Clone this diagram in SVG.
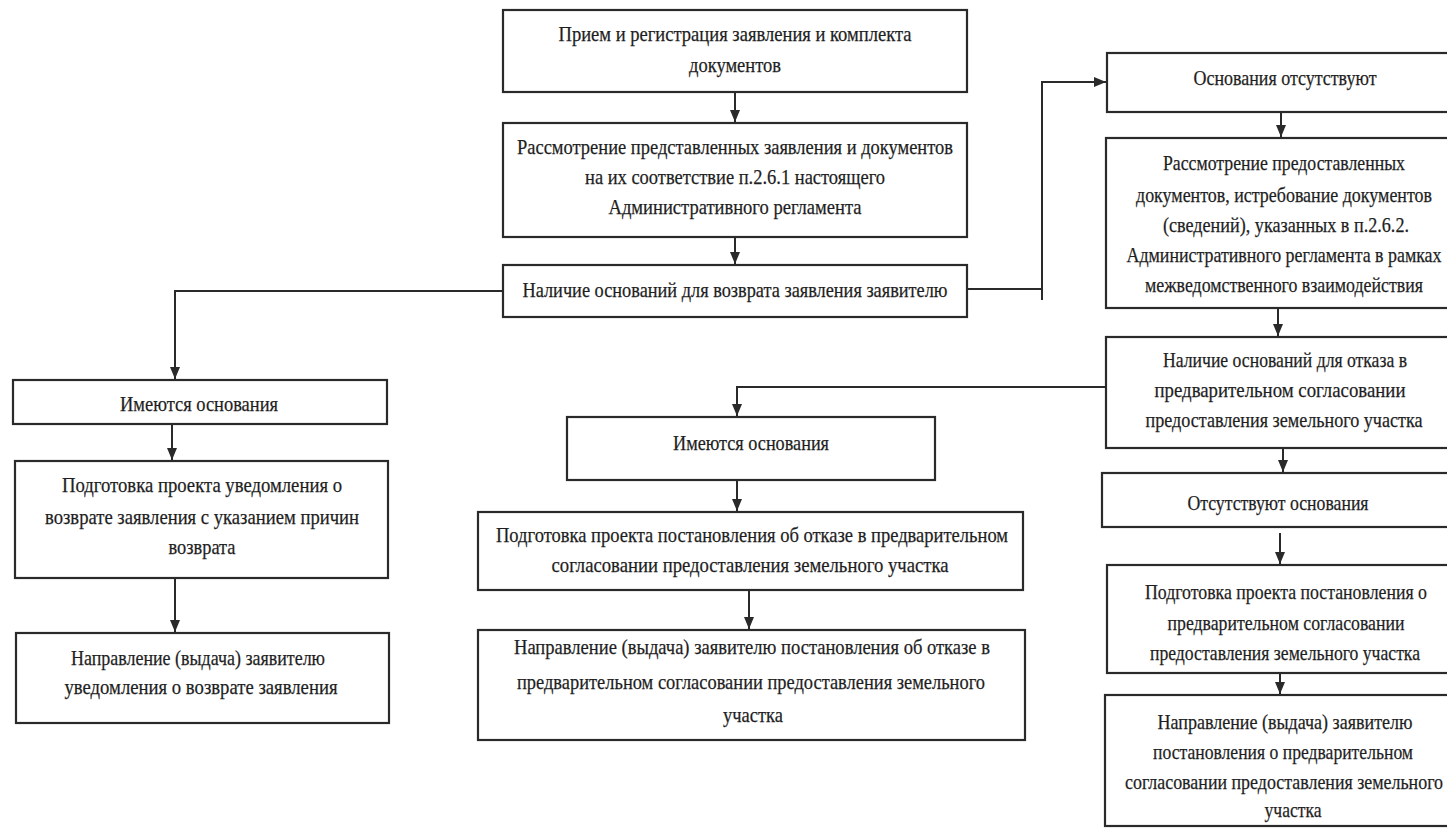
<svg xmlns="http://www.w3.org/2000/svg" width="1447" height="837" viewBox="0 0 1447 837">
<defs>
<marker id="ah" markerUnits="userSpaceOnUse" markerWidth="12" markerHeight="14" refX="12" refY="5" orient="auto">
<path d="M0,0 L12,5 L0,10 z" fill="#2a2a2a"/>
</marker>
<style>
.b{fill:none;stroke:#2a2a2a;stroke-width:2.2}
.t{font-family:"Liberation Serif","Times New Roman",serif;font-size:22px;fill:#1e1e1e;stroke:#1e1e1e;stroke-width:0.25;text-anchor:middle}
.c{fill:none;stroke:#2a2a2a;stroke-width:2}
</style>
</defs>
<rect width="1447" height="837" fill="#ffffff"/>
<g id="connectors">
<path class="c" d="M735,92 V122" marker-end="url(#ah)"/>
<path class="c" d="M735,237 V264" marker-end="url(#ah)"/>
<path class="c" d="M503,291 H175 V379" marker-end="url(#ah)"/>
<path class="c" d="M967,289 H1042 M1042,300 V82 H1106" marker-end="url(#ah)"/>
<path class="c" d="M1281,112 V137" marker-end="url(#ah)"/>
<path class="c" d="M1278,308 V336" marker-end="url(#ah)"/>
<path class="c" d="M1106,387 H737 V416" marker-end="url(#ah)"/>
<path class="c" d="M737,480 V511" marker-end="url(#ah)"/>
<path class="c" d="M749,590 V629" marker-end="url(#ah)"/>
<path class="c" d="M1283,448 V472" marker-end="url(#ah)"/>
<path class="c" d="M1280,533 V564" marker-end="url(#ah)"/>
<path class="c" d="M1280,673 V694" marker-end="url(#ah)"/>
<path class="c" d="M172,424 V460" marker-end="url(#ah)"/>
<path class="c" d="M175,578 V632" marker-end="url(#ah)"/>
</g>
<g id="n1"><rect class="b" x="503" y="10" width="464" height="82"/>
<text class="t" x="735" y="41" textLength="353" lengthAdjust="spacingAndGlyphs">Прием и регистрация заявления и комплекта</text>
<text class="t" x="735" y="72" textLength="92" lengthAdjust="spacingAndGlyphs">документов</text></g>
<g id="n2"><rect class="b" x="503" y="123" width="464" height="114"/>
<text class="t" x="735" y="154" textLength="436" lengthAdjust="spacingAndGlyphs">Рассмотрение представленных заявления и документов</text>
<text class="t" x="735" y="184" textLength="300" lengthAdjust="spacingAndGlyphs">на их соответствие п.2.6.1 настоящего</text>
<text class="t" x="735" y="214" textLength="253" lengthAdjust="spacingAndGlyphs">Административного регламента</text></g>
<g id="n3"><rect class="b" x="503" y="265" width="464" height="52"/>
<text class="t" x="735" y="297" textLength="425" lengthAdjust="spacingAndGlyphs">Наличие оснований для возврата заявления заявителю</text></g>
<g id="n4"><rect class="b" x="1107" y="53" width="343" height="59"/>
<text class="t" x="1285" y="85" textLength="183" lengthAdjust="spacingAndGlyphs">Основания отсутствуют</text></g>
<g id="n5"><rect class="b" x="1106" y="138" width="344" height="170"/>
<text class="t" x="1284" y="170" textLength="242" lengthAdjust="spacingAndGlyphs">Рассмотрение предоставленных</text>
<text class="t" x="1284" y="202" textLength="296" lengthAdjust="spacingAndGlyphs">документов, истребование документов</text>
<text class="t" x="1286" y="232" textLength="246" lengthAdjust="spacingAndGlyphs">(сведений), указанных в п.2.6.2.</text>
<text class="t" x="1284" y="262" textLength="315" lengthAdjust="spacingAndGlyphs">Административного регламента в рамках</text>
<text class="t" x="1284" y="292" textLength="278" lengthAdjust="spacingAndGlyphs">межведомственного взаимодействия</text></g>
<g id="n6"><rect class="b" x="1106" y="337" width="344" height="111"/>
<text class="t" x="1285" y="367" textLength="244" lengthAdjust="spacingAndGlyphs">Наличие оснований для отказа в</text>
<text class="t" x="1280" y="397" textLength="251" lengthAdjust="spacingAndGlyphs">предварительном  согласовании</text>
<text class="t" x="1284" y="427" textLength="277" lengthAdjust="spacingAndGlyphs">предоставления земельного участка</text></g>
<g id="n7"><rect class="b" x="1102" y="473" width="348" height="54"/>
<text class="t" x="1278" y="510" textLength="181" lengthAdjust="spacingAndGlyphs">Отсутствуют основания</text></g>
<g id="n8"><rect class="b" x="1107" y="565" width="343" height="108"/>
<text class="t" x="1286" y="599" textLength="282" lengthAdjust="spacingAndGlyphs">Подготовка проекта постановления о</text>
<text class="t" x="1286" y="630" textLength="237" lengthAdjust="spacingAndGlyphs">предварительном согласовании</text>
<text class="t" x="1285" y="660" textLength="270" lengthAdjust="spacingAndGlyphs">предоставления земельного участка</text></g>
<g id="n9"><rect class="b" x="1105" y="695" width="345" height="131"/>
<text class="t" x="1285" y="729" textLength="255" lengthAdjust="spacingAndGlyphs">Направление  (выдача) заявителю</text>
<text class="t" x="1283" y="759" textLength="260" lengthAdjust="spacingAndGlyphs">постановления о предварительном</text>
<text class="t" x="1284" y="789" textLength="318" lengthAdjust="spacingAndGlyphs">согласовании предоставления земельного</text>
<text class="t" x="1293" y="817" textLength="57" lengthAdjust="spacingAndGlyphs">участка</text></g>
<g id="n10"><rect class="b" x="13" y="380" width="374" height="44"/>
<text class="t" x="199" y="411" textLength="158" lengthAdjust="spacingAndGlyphs">Имеются основания</text></g>
<g id="n11"><rect class="b" x="15" y="461" width="373" height="117"/>
<text class="t" x="202" y="492" textLength="280" lengthAdjust="spacingAndGlyphs">Подготовка проекта уведомления о</text>
<text class="t" x="202" y="524" textLength="314" lengthAdjust="spacingAndGlyphs">возврате заявления с указанием причин</text>
<text class="t" x="202" y="554" textLength="67" lengthAdjust="spacingAndGlyphs">возврата</text></g>
<g id="n12"><rect class="b" x="16" y="633" width="373" height="90"/>
<text class="t" x="198" y="665" textLength="254" lengthAdjust="spacingAndGlyphs">Направление (выдача) заявителю</text>
<text class="t" x="201" y="694" textLength="273" lengthAdjust="spacingAndGlyphs">уведомления о возврате заявления</text></g>
<g id="n13"><rect class="b" x="567" y="417" width="368" height="63"/>
<text class="t" x="751" y="450" textLength="156" lengthAdjust="spacingAndGlyphs">Имеются основания</text></g>
<g id="n14"><rect class="b" x="478" y="512" width="545" height="78"/>
<text class="t" x="752" y="542" textLength="512" lengthAdjust="spacingAndGlyphs">Подготовка проекта постановления об отказе в предварительном</text>
<text class="t" x="750" y="572" textLength="397" lengthAdjust="spacingAndGlyphs">согласовании  предоставления земельного участка</text></g>
<g id="n15"><rect class="b" x="478" y="630" width="547" height="110"/>
<text class="t" x="752" y="654" textLength="476" lengthAdjust="spacingAndGlyphs">Направление (выдача) заявителю постановления об отказе в</text>
<text class="t" x="751" y="689" textLength="468" lengthAdjust="spacingAndGlyphs">предварительном согласовании предоставления земельного</text>
<text class="t" x="753" y="722" textLength="60" lengthAdjust="spacingAndGlyphs">участка</text></g>
</svg>
